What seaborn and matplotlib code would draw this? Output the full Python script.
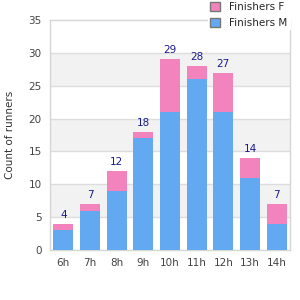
import pandas as pd
import matplotlib
matplotlib.use("Agg")
import matplotlib.pyplot as plt
import seaborn as sns
from matplotlib.patches import Patch

# Data
hours = ["6h", "7h", "8h", "9h", "10h", "11h", "12h", "13h", "14h"]
finishers_m = [3, 6, 9, 17, 21, 26, 21, 11, 4]
finishers_f = [1, 1, 3, 1, 8, 2, 6, 3, 3]

df = pd.DataFrame({"hour": hours, "M": finishers_m, "F": finishers_f})
df["total"] = df["M"] + df["F"]

blue = "#62a9f2"
pink = "#f283bd"

sns.set_style("white")
plt.rcParams["font.family"] = ["DejaVu Sans"]

fig = plt.figure(figsize=(3, 3), dpi=100)
ax = fig.add_axes([0.1667, 0.1667, 0.8, 0.7667])

# alternating background bands
for lo in (5, 15, 25):
    ax.axhspan(lo, lo + 5, color="#f2f2f2", zorder=0, lw=0)
for y in range(5, 35, 5):
    ax.axhline(y, color="#dddddd", lw=1, zorder=0.5)

sns.barplot(data=df, x="hour", y="total", color=pink, width=0.75,
            saturation=1, linewidth=0, ax=ax, zorder=2)
sns.barplot(data=df, x="hour", y="M", color=blue, width=0.75,
            saturation=1, linewidth=0, ax=ax, zorder=3)

for i, t in enumerate(df["total"]):
    ax.text(i, t + 0.6, str(t), ha="center", va="bottom",
            fontsize=7.5, color="#1a1a8c", zorder=4)

ax.set_xlim(-0.5, 8.5)
ax.set_ylim(0, 35)
ax.set_yticks(range(0, 36, 5))
ax.set_xlabel("")
ax.set_ylabel("Count of runners", fontsize=7.5, color="#333333", labelpad=10)
ax.tick_params(axis="both", labelsize=7.5, colors="#444444", length=0, pad=6)
for s in ax.spines.values():
    s.set_color("#d6d6d6")
    s.set_linewidth(1)

handles = [Patch(facecolor=pink, edgecolor="#777777", label="Finishers F"),
           Patch(facecolor=blue, edgecolor="#777777", label="Finishers M")]
leg = fig.legend(handles=handles, loc="upper right", bbox_to_anchor=(0.965, 1.0),
                 frameon=True, fontsize=7.5, handlelength=0.9, handleheight=0.9,
                 handletextpad=0.9, labelspacing=0.55, borderpad=0.2,
                 borderaxespad=0.0)
leg.get_frame().set_edgecolor("white")
leg.get_frame().set_facecolor("white")
leg.get_frame().set_alpha(1)
leg.set_zorder(10)

fig.savefig("out.png", dpi=100)
